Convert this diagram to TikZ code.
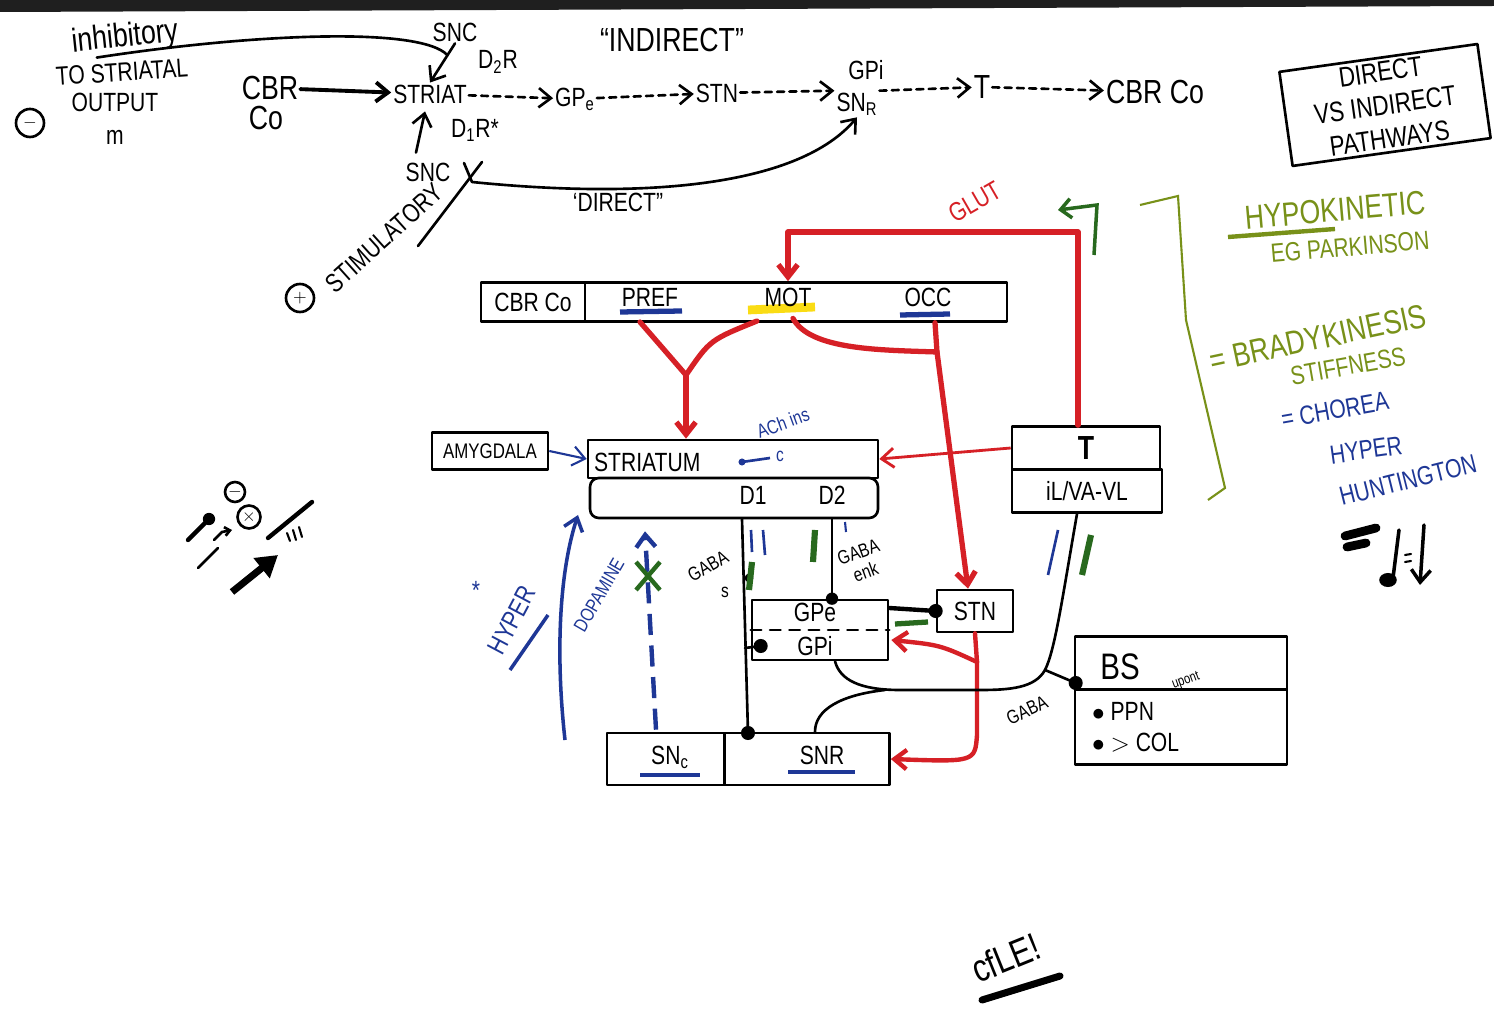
\documentclass[tikz,border=0pt]{standalone}
\usepackage{fontspec}
\setmainfont{Liberation Sans}[FakeStretch=0.8]
\usetikzlibrary{positioning,arrows.meta,calc}
\definecolor{wbred}{RGB}{214,32,38}
\definecolor{wbblue}{RGB}{30,55,150}
\definecolor{wbgreen}{RGB}{120,145,25}
\definecolor{wbdkgreen}{RGB}{40,105,30}
\definecolor{wbyellow}{RGB}{250,220,20}

\begin{document}
\begin{tikzpicture}[x=0.02cm,y=-0.02cm,
  ink/.style={line width=1.5pt,line cap=round,line join=round},
  box/.style={draw,ink,inner sep=2pt,font=\fontsize{15}{17}\selectfont},
  lbl/.style={font=\fontsize{15}{17}\selectfont,inner sep=1pt},
  big/.style={font=\fontsize{19}{21}\selectfont,inner sep=1pt},
  sml/.style={font=\fontsize{11}{12}\selectfont,inner sep=1pt},
  ring/.style={circle,draw,ink,inner sep=0pt,minimum size=0.56cm},
  barb/.style={-{Straight Barb[length=7pt,width=11pt]}},
  redway/.style={draw=wbred,line width=3pt,line cap=round,line join=round},
  dashway/.style={ink,dash pattern=on 4pt off 3pt,barb}]
  \useasboundingbox (0,0) rectangle (1494,1023);
  \fill[white] (0,0) rectangle (1494,1023);
  \fill[black!88] (0,0) -- (1494,0) -- (1494,6) -- (0,12) -- cycle;

  % top left notes
  \node[big,rotate=6] (inhib) at (125,38) {inhibitory};
  \node[lbl,rotate=4] (tostr) at (122,72) {TO STRIATAL};
  \node[lbl] (outp) at (115,102) {OUTPUT};
  \node[lbl] (mnote) at (115,137) {m};
  \node[ring] (minus1) at (30,123) {$-$};

  % indirect / direct sketch
  \node[big] (cbrtop) at (270,88) {CBR};
  \node[big] (cotop) at (266,118) {Co};
  \node[lbl] (striattop) at (430,94) {STRIAT};
  \node[lbl] (gpetop) at (575,99) {GP\textsubscript{e}};
  \node[lbl] (stntop) at (717,93) {STN};
  \node[lbl] (gpitop) at (866,70) {GPi};
  \node[lbl] (snrtop) at (857,104) {SN\textsubscript{R}};
  \node[big] (ttop) at (982,87) {T};
  \node[big] (cbrend) at (1155,92) {CBR Co};
  \node[lbl] (snctop) at (455,32) {SNC};
  \node[lbl] (d2r) at (498,62) {D\textsubscript{2}R};
  \node[big] (indir) at (672,40) {``INDIRECT''};
  \node[lbl] (d1r) at (475,130) {D\textsubscript{1}R*};
  \node[lbl] (sncdir) at (428,172) {SNC};
  \node[lbl] (direct) at (618,202) {`DIRECT''};
  \node[ring] (plus2) at (300,298) {$+$};
  \node[lbl,rotate=42] (stim) at (384,238) {STIMULATORY};
  \coordinate (yfork) at (472,182);

  \draw[ink,line width=2.2pt,barb] (cbrtop) -- (striattop);
  \draw[dashway] (striattop) -- (gpetop);
  \draw[dashway] (gpetop) -- (stntop);
  \draw[dashway] (stntop) -- (snrtop.north west);
  \draw[dashway] (snrtop.north east) -- (ttop);
  \draw[dashway] (ttop) -- (cbrend);
  \draw[ink,barb] (snctop.south) -- (striattop.north);
  \draw[ink] ($(inhib.south)+(-30,2)$) .. controls (250,34) and (420,26) .. ($(snctop.south)!0.3!(striattop.north)$);
  \draw[ink,barb] ($(sncdir.north)+(-12,-8)$) -- ($(striattop.south)+(-5,6)$);
  \draw[ink] (418,246) -- (482,162);
  \draw[ink] (464,163) -- (yfork);
  \draw[ink,barb] (yfork) .. controls (650,200) and (800,185) .. (snrtop.south);

  % title box and notes on the right
  \node[draw,ink,rotate=8,align=center,lbl,font=\fontsize{16}{19}\selectfont,
    minimum width=4cm,minimum height=1.9cm] (pathbox) at (1385,105) {DIRECT\\VS INDIRECT\\PATHWAYS};
  \draw[wbgreen,line width=2.5pt] (1228,237) -- (1335,229);
  \node[big,text=wbgreen,rotate=5] (hypo) at (1335,210) {HYPOKINETIC};
  \node[lbl,text=wbgreen,rotate=5] (parkin) at (1350,247) {EG PARKINSON};
  \node[big,text=wbgreen,rotate=12] (brady) at (1318,338) {= BRADYKINESIS};
  \node[lbl,text=wbgreen,rotate=10] (stiff) at (1348,366) {STIFFNESS};
  \node[lbl,text=wbblue,rotate=10] (chorea) at (1335,410) {= CHOREA};
  \node[lbl,text=wbblue,rotate=8] (hyper) at (1366,450) {HYPER};
  \node[lbl,text=wbblue,rotate=14] (hunt) at (1408,480) {HUNTINGTON};
  \draw[wbgreen,line width=1.2pt] (1140,205) -- (1178,196) -- (1186,320) -- (1225,488) -- (1208,500);
  \draw[wbdkgreen,line width=2pt,-{Straight Barb[length=6pt,width=11pt]}] (1094,255) -- (1097,205) -- (1058,210);

  % cortex
  \node[box,minimum width=2.08cm,minimum height=0.78cm] (cbrco) at (533,302) {CBR Co};
  \node[box,minimum width=8.44cm,minimum height=0.78cm] (ctx) at (796,302) {};
  \draw[wbblue,line width=3pt] (620,312) -- (682,311);
  \draw[wbyellow,line width=5pt] (748,310) -- (815,307);
  \draw[wbblue,line width=3pt] (900,315) -- (950,314);
  \node[lbl] (pref) at (650,297) {PREF};
  \node[lbl] (mot) at (788,297) {MOT};
  \node[lbl] (occ) at (928,297) {OCC};

  % other boxes
  \node[box,font=\fontsize{12}{14}\selectfont,minimum width=2.32cm,minimum height=0.74cm] (amyg) at (490,451) {AMYGDALA};
  \node[box,minimum width=5.8cm,minimum height=0.76cm] (striat) at (733,459) {};
  \node[lbl,anchor=west] (striatlbl) at (592,462) {STRIATUM};
  \node[box,minimum width=5.76cm,minimum height=0.8cm,rounded corners=5pt] (striatlow) at (734,498) {};
  \node[lbl] (d1) at (753,495) {D1};
  \node[lbl] (d2) at (832,495) {D2};
  \node[sml,text=wbblue,rotate=20] (achins) at (783,423) {ACh ins};
  \draw[wbblue,line width=1.5pt] (742,462) -- (770,458);
  \fill[wbblue] (742,462) circle (2pt);
  \node[sml,text=wbblue] (cnote) at (780,456) {c};
  \node[box,minimum width=2.96cm,minimum height=0.86cm,font=\fontsize{19}{21}\selectfont\bfseries] (thaltop) at (1086,448) {T};
  \node[box,minimum width=3cm,minimum height=0.86cm] (thallow) at (1087,491) {iL/VA-VL};
  \node[box,minimum width=2.72cm,minimum height=1.2cm] (gp) at (820,630) {};
  \node[lbl] (gpe) at (815,612) {GPe};
  \node[lbl] (gpi) at (815,646) {GPi};
  \draw[ink,dash pattern=on 6pt off 5pt] (gp.west) -- (gp.east);
  \node[box,minimum width=1.52cm,minimum height=0.84cm] (stn) at (975,611) {STN};
  \node[box,minimum width=4.24cm,minimum height=1.06cm] (bstop) at (1181,663) {};
  \node[big,font=\fontsize{21}{23}\selectfont] (bslbl) at (1120,667) {BS};
  \node[box,minimum width=4.24cm,minimum height=1.5cm] (bslow) at (1181,727) {};
  \node[lbl,anchor=west] (ppn) at (1090,711) {$\bullet$ PPN};
  \node[lbl,anchor=west] (col) at (1090,743) {$\bullet$ $>$ COL};
  \node[font=\fontsize{8}{9}\selectfont,rotate=20,inner sep=0pt] (upont) at (1186,681) {upont};
  \node[box,minimum width=2.36cm,minimum height=1.04cm] (snc) at (666,759) {};
  \node[box,minimum width=3.3cm,minimum height=1.04cm] (snr) at (807,759) {};
  \draw[wbblue,line width=2.5pt] (640,775) -- (700,775);
  \draw[wbblue,line width=2.5pt] (788,772) -- (855,772);
  \node[lbl] (snclbl) at (670,757) {SN\textsubscript{c}};
  \node[lbl] (snrlbl) at (822,755) {SNR};

  % red glutamate paths
  \coordinate (glutcorner) at (1078,232);
  \coordinate (merge) at (686,375);
  \coordinate (tjoin) at (937,352);
  \coordinate (rsplit) at (977,662);
  \draw[redway,barb] (thaltop.north -| glutcorner) -- (glutcorner) -- (mot |- glutcorner) -- (mot |- ctx.north);
  \node[lbl,text=wbred,rotate=30] (glut) at (975,202) {GLUT};
  \draw[redway] (640,322) .. controls (660,345) .. (merge);
  \draw[redway] (757,321) .. controls (710,340) .. (merge);
  \draw[redway,barb] (merge) -- (merge |- striat.north);
  \draw[redway] ($(mot.south)+(5,10)$) .. controls (810,350) and (880,350) .. (tjoin);
  \draw[redway,barb] ($(occ |- ctx.south)+(7,0)$) -- (tjoin) -- ($(stn.north)+(-7,0)$);
  \draw[draw=wbred,line width=1.6pt,barb] (thaltop.west) -- (striat.east);
  \draw[redway,line width=2.5pt] (stn.south) -- (rsplit);
  \draw[redway,line width=2.5pt,barb] (rsplit) .. controls (940,645) .. ($(gp.east)+(2,10)$);
  \draw[redway,line width=2.5pt,barb] (rsplit) -- (977,735) .. controls (975,762) .. (snr.east);

  % black projections
  \coordinate (snrdot) at (748,733);
  \coordinate (d1branch) at (745,648);
  \coordinate (tjunc) at (1045,670);
  \draw[ink] ($(striatlow.south)+(8,0)$) -- (snrdot);
  \fill (snrdot) circle (4pt);
  \fill (749,578) circle (2.5pt);
  \draw[ink] (d1branch) -- ($(gp.west)+(10,16)$);
  \fill ($(gp.west)+(10,16)$) circle (4pt);
  \draw[ink] (d2 |- striatlow.south) -- (d2 |- gp.north);
  \fill (d2 |- gp.north) circle (3.5pt);
  \draw[ink,line width=2.5pt] ($(gp.east)+(0,-22)$) -- (stn.west);
  \fill (stn.west) circle (4pt);
  \draw[wbdkgreen,line width=3pt] (895,624) -- (928,622);
  \draw[ink] ($(thallow.south)+(-10,0)$) .. controls (1062,600) and (1055,650) .. (tjunc);
  \draw[ink] (tjunc) .. controls (1035,688) and (1010,690) .. (980,690) -- (900,690) .. controls (860,690) and (840,680) .. ($(gp.south)+(15,0)$);
  \draw[ink] (885,690) .. controls (840,695) and (815,710) .. ($(snr.north)+(8,0)$);
  \draw[ink] (tjunc) -- ($(bstop.west)+(2,20)$);
  \fill ($(bstop.west)+(2,20)$) circle (4pt);
  \node[sml,rotate=25] (gababs) at (1027,710) {GABA};
  \node[sml,rotate=30] (gabas) at (708,566) {GABA};
  \node[sml] (snote) at (725,592) {s};
  \node[sml,rotate=20,align=center] (gabaenk) at (862,562) {GABA\\enk};

  % tick marks
  \draw[wbblue,line width=1.5pt] (751,530) -- (752,552);
  \draw[wbblue,line width=1.5pt] (763,530) -- (765,555);
  \draw[wbdkgreen,line width=3.5pt] (752,562) -- (749,590);
  \draw[wbdkgreen,line width=3.5pt] (815,530) -- (813,562);
  \draw[wbblue,line width=1.2pt] (845,522) -- (846,532);
  \draw[wbblue,line width=1.5pt] (1058,530) -- (1048,575);
  \draw[wbdkgreen,line width=3.5pt] (1091,535) -- (1082,575);

  % dopamine
  \draw[wbblue,line width=2.5pt,dash pattern=on 12pt off 6pt,barb] ($(snc.north)+(-10,-2)$) -- ($(striatlow.south)+(-89,12)$);
  \draw[wbdkgreen,line width=2.5pt] (636,562) -- (660,590) (660,562) -- (636,590);
  \node[sml,text=wbblue,rotate=60] (dopa) at (599,595) {DOPAMINE};
  \draw[wbblue,line width=2pt,barb] (565,740) .. controls (555,650) and (560,570) .. (578,515);
  \node[lbl,text=wbblue,rotate=62] (hyperl) at (512,620) {HYPER};
  \node[lbl,text=wbblue] (star) at (476,590) {*};
  \draw[wbblue,line width=2pt] (510,670) -- (548,615);
  \draw[wbblue,line width=1.2pt,barb] (amyg.east) -- (striat.west);

  % legend of symbols
  \node[ring,minimum size=0.4cm] (lminus) at (235,492) {$-$};
  \node[ring,minimum size=0.46cm] (lplus) at (249,517) {$\times$};
  \draw[ink,line width=2.5pt] (188,540) -- (207,521);
  \fill (209,519) circle (3.5pt);
  \draw[ink,-{Straight Barb[length=3pt,width=5pt]}] (214,540) -- (222,532) -- (232,530);
  \draw[ink] (198,568) -- (218,548);
  \draw[ink,line width=2.5pt] (268,538) -- (312,502);
  \draw[ink,line width=1.2pt] (287,533) -- (290,541) (293,530) -- (296,540) (299,527) -- (302,537);
  \draw[line width=4pt,-{Triangle[length=12pt,width=14pt]}] (232,592) -- (278,555);
  \draw[line width=5pt,line cap=round] (1345,536) -- (1376,528);
  \draw[line width=5pt,line cap=round] (1347,547) -- (1366,543);
  \draw[ink,line width=2pt] (1399,530) -- (1393,578);
  \fill (1388,580) ellipse (5pt and 4pt);
  \draw[ink,line width=1.2pt] (1405,555) -- (1411,554) (1405,562) -- (1411,561);
  \draw[ink,line width=2pt,barb] (1424,525) -- (1420,585);

  % bottom note
  \node[font=\fontsize{22}{24}\selectfont,rotate=22] (cfle) at (1006,958) {cfLE!};
  \draw[line width=4pt,line cap=round] (982,1000) -- (1060,976);
\end{tikzpicture}
\end{document}
